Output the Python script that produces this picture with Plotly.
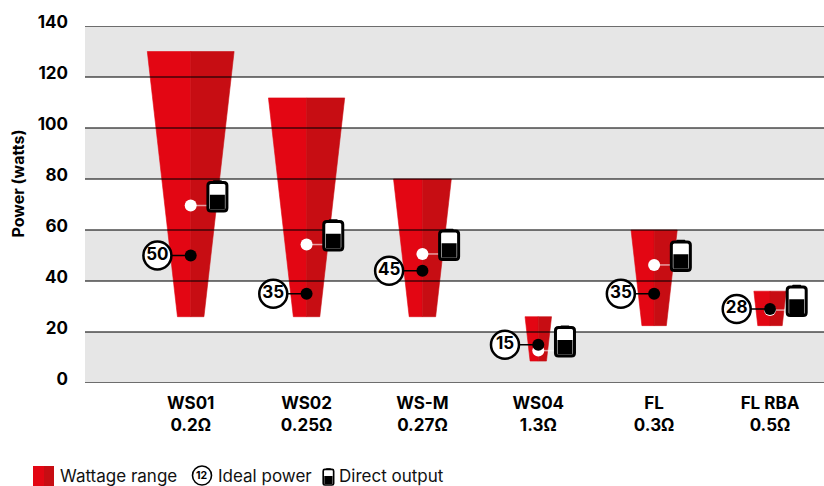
import plotly.graph_objects as go

categories = ["WS01", "WS02", "WS-M", "WS04", "FL", "FL RBA"]
resistance = ["0.2Ω", "0.25Ω", "0.27Ω", "1.3Ω", "0.3Ω", "0.5Ω"]
range_max = [130, 111.8, 80, 26, 60, 36]
range_min = [26, 26, 26, 8.6, 22.5, 22.5]
ideal_pos = [50, 35, 44, 15, 35, 29]
ideal_label = ["50", "35", "45", "15", "35", "28"]
direct_pos = [69.6, 54.3, 50.6, 12.7, 46.3, 28.6]
y_ticks = [0, 20, 40, 60, 80, 100, 120, 140]
bands = [(120, 140), (80, 100), (40, 60), (0, 20)]

FONT = "Inter"
RED_L, RED_R = "#e30613", "#c70d13"
W, H = 824, 486
L, B, T = 85, 103, 26
STEP = 115.86   # px per category
X0 = 190.7      # px of first category
px2x = lambda p: (p - X0) / STEP
xr = [px2x(L), px2x(W)]
wid = lambda v: (11.4 + 0.58 * v) / 2 / STEP
pw = lambda p: (p - L) / (W - L)
ph = lambda p: (H - B - p) / (H - B - T)

fig = go.Figure()
xs = list(range(len(categories)))

# trapezoids
for i in xs:
    tw, bw = wid(range_max[i]), wid(range_min[i])
    for sgn, col in ((-1, RED_L), (1, RED_R)):
        fig.add_trace(go.Scatter(
            x=[i, i + sgn * tw, i + sgn * bw, i, i],
            y=[range_max[i], range_max[i], range_min[i], range_min[i], range_max[i]],
            mode="lines", fill="toself", fillcolor=col, line=dict(width=0.6, color=col),
            hoverinfo="skip", showlegend=False))

# grid over the shapes
gx, gy = [], []
for t in y_ticks:
    gx += [xr[0], xr[1], None]
    gy += [t, t, None]
fig.add_trace(go.Scatter(x=gx, y=gy, mode="lines", cliponaxis=False,
                         line=dict(color="rgba(0,0,0,0.7)", width=1.5),
                         hoverinfo="skip", showlegend=False))

LBL = 33.3 / STEP
BAT = 18 / STEP
# connectors
for i in xs:
    fig.add_trace(go.Scatter(x=[i, i + BAT], y=[direct_pos[i]] * 2, mode="lines",
                             line=dict(color="rgba(255,255,255,0.6)", width=1.5),
                             hoverinfo="skip", showlegend=False))
# white dots
fig.add_trace(go.Scatter(x=xs, y=direct_pos, mode="markers",
                         marker=dict(size=12, color="white"), showlegend=False))
for i in xs:
    fig.add_trace(go.Scatter(x=[i - LBL, i], y=[ideal_pos[i]] * 2, mode="lines",
                             line=dict(color="black", width=1.5),
                             hoverinfo="skip", showlegend=False))
# black dots
fig.add_trace(go.Scatter(x=xs, y=ideal_pos, mode="markers",
                         marker=dict(size=12, color="black"), showlegend=False))
# value circles
fig.add_trace(go.Scatter(
    x=[i - LBL for i in xs], y=ideal_pos, mode="markers+text",
    marker=dict(size=28, color="white", line=dict(color="black", width=2.5)),
    text=ideal_label, textposition="middle center",
    textfont=dict(family=FONT, size=17, color="black", weight=700),
    showlegend=False))


def rrect(x0, y0, x1, y1, r):
    return (f"M{x0+r},{y0} L{x1-r},{y0} Q{x1},{y0} {x1},{y0+r} L{x1},{y1-r} Q{x1},{y1} {x1-r},{y1} "
            f"L{x0+r},{y1} Q{x0},{y1} {x0},{y1-r} L{x0},{y0+r} Q{x0},{y0} {x0+r},{y0} Z")


def battery(xa, ya, xref, yref, dx, s=1.0):
    """dx, offsets in pixels relative to anchor"""
    out = []
    base = dict(type="path", xref=xref, yref=yref, xsizemode="pixel", ysizemode="pixel",
                xanchor=xa, yanchor=ya, layer="above")
    ys = -5.5 * s
    w = 19 * s
    h = 28.5 * s
    # nub
    out.append(dict(base, path=rrect(dx + 5*s, ys + h, dx + w - 5*s, ys + h + 2.2*s, 0.8),
                    fillcolor="black", line=dict(width=0)))
    out.append(dict(base, path=rrect(dx, ys, dx + w, ys + h, 3*s),
                    fillcolor="white", line=dict(color="black", width=3*s)))
    out.append(dict(base, path=rrect(dx + 2*s, ys + 1.6*s, dx + w - 2*s, ys + 0.57*h, 0),
                    fillcolor="black", line=dict(width=0)))
    return out


shapes = []
for a, b in bands:
    shapes.append(dict(type="rect", xref="paper", x0=0, x1=1, yref="y", y0=a, y1=b,
                       fillcolor="#e6e6e6", line=dict(width=0), layer="below"))
for i in xs:
    shapes += battery(i, direct_pos[i], "x", "y", 17.2)

# legend
shapes.append(dict(type="rect", xref="paper", yref="paper", x0=pw(33), x1=pw(54), y0=ph(486), y1=ph(466),
                   fillcolor=RED_L, line=dict(width=0)))
shapes.append(dict(type="rect", xref="paper", yref="paper", x0=pw(44), x1=pw(54), y0=ph(486), y1=ph(466),
                   fillcolor=RED_R, line=dict(width=0)))
shapes.append(dict(type="circle", xref="paper", yref="paper", x0=pw(192.5), x1=pw(211.5), y0=ph(485), y1=ph(466),
                   fillcolor="white", line=dict(color="black", width=1.6)))
shapes += battery(pw(328), ph(482), "paper", "paper", -4.8, s=0.55)

anns = []
for txt, x in (("Wattage range", 57.5), ("Ideal power", 215.5), ("Direct output", 336.5)):
    anns.append(dict(text=txt, x=pw(x), y=ph(475.5), xref="paper", yref="paper", xanchor="left",
                     yanchor="middle", showarrow=False,
                     font=dict(family=FONT, size=17, color="#111")))
anns.append(dict(text="12", x=pw(202), y=ph(475.5), xref="paper", yref="paper", showarrow=False,
                 xanchor="center", yanchor="middle",
                 font=dict(family=FONT, size=10.5, color="black", weight=700)))
anns.append(dict(text="Power (watts)", x=pw(17), y=ph(183.5), xref="paper", yref="paper", showarrow=False,
                 xanchor="center", yanchor="middle", textangle=-90,
                 font=dict(family=FONT, size=16, color="black", weight=700)))

fig.update_layout(
    width=W, height=H, autosize=False,
    margin=dict(l=L, r=0, t=T, b=B, pad=0),
    paper_bgcolor="white", plot_bgcolor="white",
    showlegend=False, shapes=shapes, annotations=anns,
    font=dict(family=FONT, color="black"),
    xaxis=dict(range=xr, tickvals=xs,
               ticktext=[f"{c}<br>{r}" for c, r in zip(categories, resistance)],
               tickfont=dict(family=FONT, size=17, weight=700, color="black"),
               showgrid=False, zeroline=False, showline=False, ticks="", ticklabelstandoff=8, fixedrange=True),
    yaxis=dict(range=[0, 140], tickvals=y_ticks, ticks="",
               tickfont=dict(family=FONT, size=17, weight=700, color="black"),
               showgrid=False, zeroline=False, showline=False,
               ticklabelstandoff=16, ticklabelshift=-4, fixedrange=True),
)
fig.write_html("out.html", config=dict(displayModeBar=False),
               post_script="document.body.style.margin='0';document.documentElement.style.overflow='hidden';")
